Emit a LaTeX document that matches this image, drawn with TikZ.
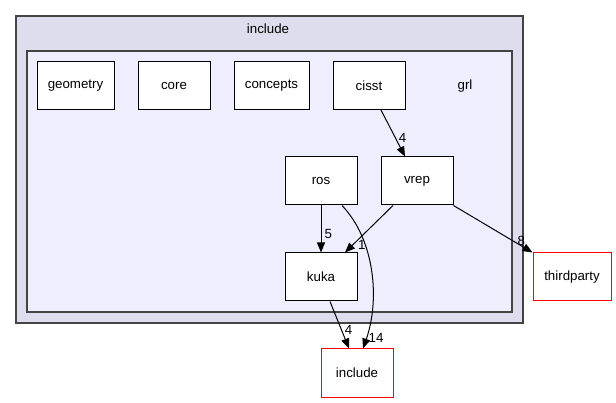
\documentclass[tikz,border=0pt]{standalone}
\usepackage{fontspec}
\setmainfont{Liberation Sans}
\usepackage{tikz}
\usetikzlibrary{arrows.meta,positioning,calc}
\definecolor{outerfill}{HTML}{DDDDEE}
\definecolor{innerfill}{HTML}{EEEEFF}
\definecolor{frame}{HTML}{444444}
\definecolor{extred}{HTML}{FF0000}
\tikzset{
  dirbox/.style={draw=black, fill=white, minimum width=72pt, minimum height=48pt, inner sep=2pt, line width=1pt, font=\fontsize{13.3}{15}\selectfont},
  extbox/.style={draw=extred, fill=white, minimum width=72pt, minimum height=48pt, inner sep=2pt, line width=1pt, font=\fontsize{13.3}{15}\selectfont},
  cluster/.style={draw=frame, line width=1.2pt},
  arr/.style={-{Triangle[length=10pt,width=8pt]}, line width=1pt},
  num/.style={font=\fontsize{13.3}{15}\selectfont, inner sep=0pt}}

\begin{document}
\begin{tikzpicture}[x=1pt,y=-1pt]
  \useasboundingbox (0,0) rectangle (616,403);
  % clusters
  \draw[cluster, fill=outerfill] (16,16) rectangle (523,323);
  \node[num] (inctitle) at (268,29) {include};
  \draw[cluster, fill=innerfill] (27,51) rectangle (512,312);
  \node[num] (grltitle) at (465,86) {grl};
  % directories
  \node[dirbox, minimum width=77pt] (geometry) at (75.5,85.5) {geometry};
  \node[dirbox] (core) at (174,85.5) {core};
  \node[dirbox, minimum width=75pt] (concepts) at (271.5,85.5) {concepts};
  \node[dirbox] (cisst) at (369,85.5) {cisst};
  \node[dirbox] (ros) at (321,181) {ros};
  \node[dirbox] (vrep) at (417,181) {vrep};
  \node[dirbox] (kuka) at (321,277) {kuka};
  \node[extbox] (include) at (357,373) {include};
  \node[extbox, minimum width=78pt] (thirdparty) at (572,277) {thirdparty};
  % dependencies
  \draw[arr] ($(cisst.south)+(12,0)$) -- ($(vrep.north)+(-12,0)$) node[num, pos=0.6, right=3pt] {4};
  \draw[arr] (ros) -- (kuka) node[num, pos=0.6, right=3pt] {5};
  \draw[arr] ($(vrep.south)+(-24,0)$) -- ($(kuka.north)+(24,0)$) node[num, pos=0.84, right=5pt] {1};
  \draw[arr] (vrep.south east) -- (thirdparty.north west) node[num, pos=0.86, above=0pt] {8};
  \draw[arr] ($(kuka.south)+(9,0)$) -- ($(include.north)+(-8,0)$) node[num, pos=0.6, right=3pt] {4};
  \draw[arr] ($(ros.south)+(21,0)$) .. controls (375,240) and (380,300) .. ($(include.north)+(6,0)$) node[num, pos=0.93, right=2pt] {14};
\end{tikzpicture}
\end{document}
